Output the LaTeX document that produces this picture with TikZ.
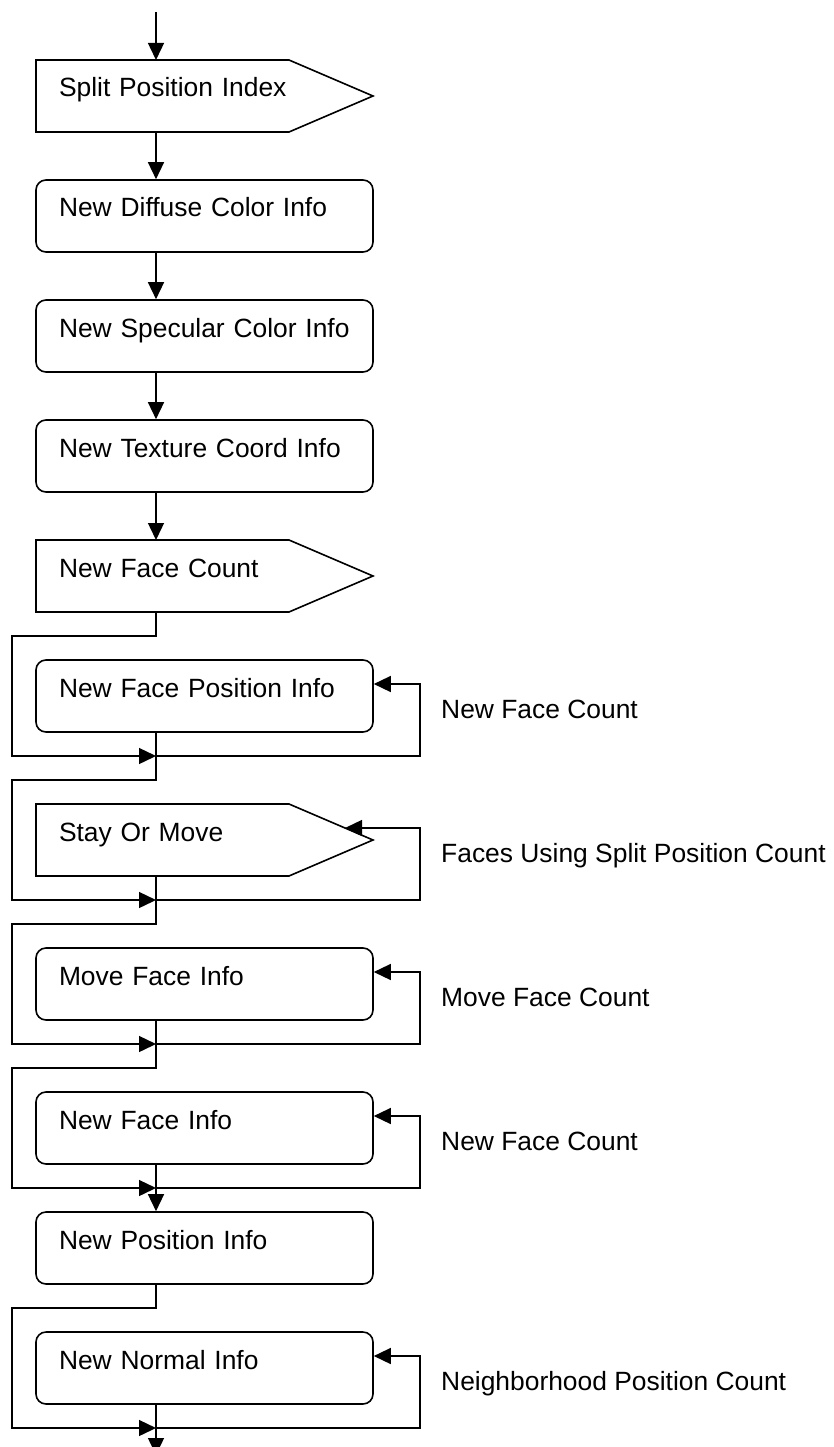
\documentclass[tikz,border=0pt]{standalone}
\usepackage{fontspec}
\setmainfont{Liberation Sans}
\usetikzlibrary{arrows.meta,calc}
\begin{document}
\begin{tikzpicture}[x=1pt,y=-1pt,
  every node/.style={font=\fontsize{26.4}{30}\selectfont},
  stepbox/.style={draw, line width=1.6pt, rounded corners=10pt, minimum width=337pt, minimum height=72pt,
    inner xsep=23pt, inner ysep=0pt, text width=291pt, align=left, text height=10pt, text depth=8pt},
  pentbox/.style={minimum width=337pt, minimum height=72pt, outer sep=0pt,
    inner xsep=23pt, inner ysep=0pt, text width=291pt, align=left, text height=10pt, text depth=8pt},
  pentline/.style={line width=1.6pt, line join=miter},
  conn/.style={line width=1.4pt},
  arr/.style={conn, -{Triangle[length=17pt,width=16pt]}},
  sidelabel/.style={anchor=base west, inner sep=0pt}
]
\useasboundingbox (0,0) rectangle (833,1447);

% reference coordinates
\coordinate (trunk) at (156,0);
\coordinate (lft) at (12,0);
\coordinate (rgt) at (420,0);
\coordinate (start) at (156,12);
\coordinate (end) at (156,1455);

% nodes
\node[pentbox] (p1) at (204.5,96) {Split Position Index};
\node[stepbox] (b2) at (204.5,216) {New Diffuse Color Info};
\node[stepbox] (b3) at (204.5,336) {New Specular Color Info};
\node[stepbox] (b4) at (204.5,456) {New Texture Coord Info};
\node[pentbox] (p5) at (204.5,576) {New Face Count};
\node[stepbox] (b6) at (204.5,696) {New Face Position Info};
\node[pentbox] (p7) at (204.5,840) {Stay Or Move};
\node[stepbox] (b8) at (204.5,984) {Move Face Info};
\node[stepbox] (b9) at (204.5,1128) {New Face Info};
\node[stepbox] (b10) at (204.5,1248) {New Position Info};
\node[stepbox] (b11) at (204.5,1368) {New Normal Info};

% pentagon outlines
\foreach \p in {p1,p5,p7}{
  \draw[pentline] (\p.north west) -- ($(\p.north east)+(-84,0)$) -- (\p.east)
    -- ($(\p.south east)+(-84,0)$) -- (\p.south west) -- cycle;
}

% side labels
\node[sidelabel] (l6) at (441,718) {New Face Count};
\node[sidelabel] (l7) at (441,862) {Faces Using Split Position Count};
\node[sidelabel] (l8) at (441,1006) {Move Face Count};
\node[sidelabel] (l9) at (441,1150) {New Face Count};
\node[sidelabel] (l11) at (441,1390) {Neighborhood Position Count};

% loop coordinates
\coordinate (s6) at (156,636);  \coordinate (m6) at (156,756);  \coordinate (r6) at (420,684);
\coordinate (s7) at (156,780);  \coordinate (m7) at (156,900);  \coordinate (r7) at (420,828);
\coordinate (s8) at (156,924);  \coordinate (m8) at (156,1044); \coordinate (r8) at (420,972);
\coordinate (s9) at (156,1068); \coordinate (m9) at (156,1188); \coordinate (r9) at (420,1116);
\coordinate (s11) at (156,1308); \coordinate (m11) at (156,1428); \coordinate (r11) at (420,1356);
\coordinate (p7s) at (345,828);

% straight connectors
\draw[arr] (start) -- (p1.north -| trunk);
\draw[arr] (p1.south -| trunk) -- (b2.north -| trunk);
\draw[arr] (b2.south -| trunk) -- (b3.north -| trunk);
\draw[arr] (b3.south -| trunk) -- (b4.north -| trunk);
\draw[arr] (b4.south -| trunk) -- (p5.north -| trunk);

% New Face Position Info loop
\draw[arr] (p5.south -| trunk) -- (s6) -- (s6 -| lft) -- (m6 -| lft) -- (m6);
\draw[conn] (b6.south -| trunk) -- (m6);
\draw[arr] (m6) -- (m6 -| rgt) -- (r6) -- (b6.east |- r6);

% Stay Or Move loop
\draw[arr] (m6) -- (s7) -- (s7 -| lft) -- (m7 -| lft) -- (m7);
\draw[conn] (p7.south -| trunk) -- (m7);
\draw[arr] (m7) -- (m7 -| rgt) -- (r7) -- (p7s);

% Move Face Info loop
\draw[arr] (m7) -- (s8) -- (s8 -| lft) -- (m8 -| lft) -- (m8);
\draw[conn] (b8.south -| trunk) -- (m8);
\draw[arr] (m8) -- (m8 -| rgt) -- (r8) -- (b8.east |- r8);

% New Face Info loop
\draw[arr] (m8) -- (s9) -- (s9 -| lft) -- (m9 -| lft) -- (m9);
\draw[conn] (b9.south -| trunk) -- (m9);
\draw[arr] (m9) -- (m9 -| rgt) -- (r9) -- (b9.east |- r9);

\draw[arr] (m9) -- (b10.north -| trunk);

% New Normal Info loop
\draw[arr] (b10.south -| trunk) -- (s11) -- (s11 -| lft) -- (m11 -| lft) -- (m11);
\draw[conn] (b11.south -| trunk) -- (m11);
\draw[arr] (m11) -- (m11 -| rgt) -- (r11) -- (b11.east |- r11);

\draw[arr] (m11) -- (end);
\end{tikzpicture}
\end{document}
